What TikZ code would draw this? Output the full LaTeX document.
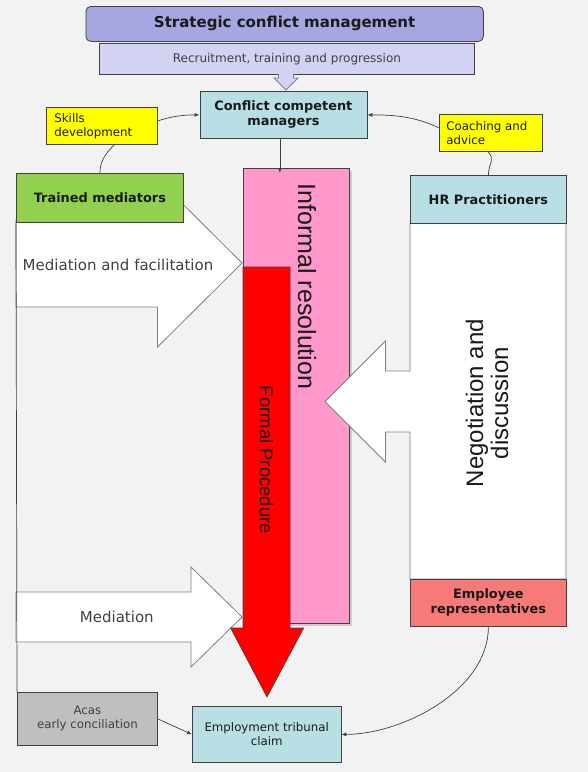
\documentclass[tikz,border=0pt]{standalone}
\usepackage{fontspec}
\setmainfont{DejaVu Sans}
\newfontfamily\arialf{Liberation Sans}
\usetikzlibrary{arrows.meta}
\definecolor{bg}{HTML}{F2F2F2}
\definecolor{boxline}{HTML}{404040}
\definecolor{conline}{HTML}{404040}
\definecolor{arrline}{HTML}{7F7F7F}
\definecolor{txt}{HTML}{1A1A1A}
\definecolor{stratfill}{HTML}{A6A6E0}
\definecolor{recfill}{HTML}{D2D2F2}
\definecolor{tealfill}{HTML}{B8E0E4}
\definecolor{yellowfill}{HTML}{FFFF00}
\definecolor{greenfill}{HTML}{92D050}
\definecolor{pinkfill}{HTML}{FF99CC}
\definecolor{redfill}{HTML}{FF0000}
\definecolor{empfill}{HTML}{F77A78}
\definecolor{acasfill}{HTML}{BFBFBF}
\begin{document}
\begin{tikzpicture}[x=1pt,y=-1pt,
  box/.style={draw=boxline, line width=0.8pt, inner sep=0pt, anchor=north west, align=center, text=txt},
  lbl/.style={font=\fontsize{11.8}{14}\selectfont},
  blbl/.style={font=\bfseries\fontsize{12.9}{15}\selectfont},
  conn/.style={draw=conline, line width=0.7pt},
  arr/.style={conn, -{Latex[length=5pt,width=4pt]}},
  bigarrow/.style={fill=white, draw=arrline, line width=0.8pt},
  biglbl/.style={text=boxline, font=\fontsize{15}{18}\selectfont}
]
\useasboundingbox (0,0) rectangle (588,772);
\fill[bg] (0,0) rectangle (588,772);

% left-hand big arrow (mediation and facilitation)
\draw[bigarrow] (16,219) -- (157.5,219) -- (157.5,179) -- (242,263) -- (157.5,347) -- (157.5,307) -- (16,307) -- cycle;
\node[biglbl] (medfac) at (118,265) {Mediation and facilitation};

% pink informal resolution column
\fill[black!20] (245.5,170.5) rectangle (351.5,625.5);
\node[box, fill=pinkfill, minimum width=106pt, minimum height=455pt] (pink) at (243,168) {};
\node[font=\arialf\fontsize{25}{28}\selectfont, rotate=-90, text=txt] (inf) at (307,286.5) {Informal resolution};

% mediation arrow
\draw[bigarrow] (16,592) -- (191,592) -- (191,567) -- (242,617) -- (191,667) -- (191,642) -- (16,642) -- cycle;
\node[biglbl] (med) at (116.8,617) {Mediation};

% red formal procedure arrow
\draw[fill=redfill, draw=black!75, line width=0.6pt] (243,267) -- (290,267) -- (290,628) -- (303.7,628) -- (267,697) -- (230.6,628) -- (243,628) -- cycle;
\node[font=\arialf\fontsize{18.5}{20}\selectfont, rotate=-90, text=txt] (form) at (266.5,460) {Formal Procedure};

% right-hand arrow (negotiation and discussion)
\draw[bigarrow] (410,223) -- (566,223) -- (566,579) -- (410,579) -- (410,432) -- (385.5,432) -- (385.5,462) -- (325,401.5) -- (385.5,341) -- (385.5,371) -- (410,371) -- cycle;
\node[font=\arialf\fontsize{24}{25}\selectfont, rotate=90, align=center, text=txt] (neg) at (487,403) {Negotiation and\\discussion};

% boxes
\node[box, fill=greenfill, minimum width=167pt, minimum height=48.5pt, blbl] (trained) at (16,173) {Trained mediators};
\node[box, fill=tealfill, minimum width=156pt, minimum height=48pt, blbl] (hr) at (410,175) {HR Practitioners};
\node[box, fill=empfill, minimum width=156pt, minimum height=47pt, blbl] (emp) at (410,579) {Employee\\representatives};

\node[box, fill=stratfill, rounded corners=5pt, minimum width=397.5pt, minimum height=35pt, font=\bfseries\fontsize{15}{18}\selectfont] (strat) at (85.5,6) {Strategic conflict management};
\node[box, fill=recfill, minimum width=375pt, minimum height=31pt, font=\fontsize{12}{14}\selectfont, text=boxline] (recr) at (99,43) {Recruitment, training and progression};
\path[fill=recfill] (278.5,73) -- (278.5,78) -- (274,78) -- (286,90) -- (298,78) -- (293.5,78) -- (293.5,73) -- cycle;
\draw[draw=arrline, line width=0.8pt, line join=miter] (278.5,74) -- (278.5,78) -- (274,78) -- (286,90) -- (298,78) -- (293.5,78) -- (293.5,74);

\node[box, fill=tealfill, minimum width=167pt, minimum height=47pt, blbl] (conf) at (199.5,91) {Conflict competent\\managers};
\node[box, fill=yellowfill, minimum width=111pt, minimum height=37pt, lbl, text width=95pt, align=left] (skills) at (46,107) {Skills\\development};
\node[box, fill=yellowfill, minimum width=103pt, minimum height=37pt, lbl, text width=89pt, align=left] (coach) at (439,114) {Coaching and\\advice};

\node[box, fill=acasfill, minimum width=140pt, minimum height=53pt, lbl, text=boxline] (acas) at (17,692) {Acas\\early conciliation};
\node[box, fill=tealfill, minimum width=148.5pt, minimum height=56pt, lbl] (trib) at (192,706) {Employment tribunal\\claim};

% connectors
\draw[arr] ([yshift=5pt]skills.east) .. controls +(15,-5) and +(-15,0) .. (conf.west);
\draw[arr] ([yshift=5pt]coach.west) .. controls +(-25,-12) and +(25,0) .. (conf.east);
\draw[conn] ([xshift=12.5pt]skills.south) .. controls +(-6,6) and +(0,-14) .. (trained.north);
\draw[conn] ([xshift=-3pt]coach.south) .. controls +(8,8) and +(0,-12) .. (hr.north);
\draw[arr] ([xshift=-3.5pt]conf.south) -- ([xshift=-3.5pt,yshift=-5pt]conf.south |- pink.north);
\draw[conn] (trained.south west) -- (acas.north west);
\draw[arr] (acas.east) -- (trib.west);
\draw[arr] (emp.south) .. controls +(0,64) and +(60,0) .. (trib.east);
\end{tikzpicture}
\end{document}
